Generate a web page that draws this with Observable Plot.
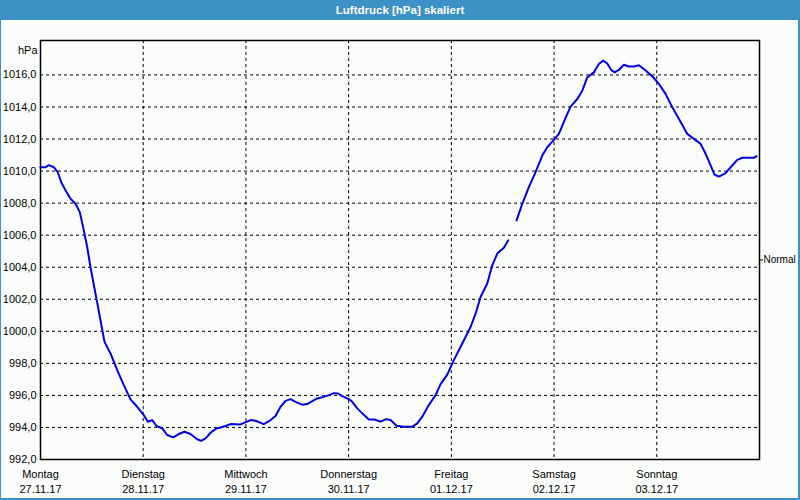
<!DOCTYPE html>
<html>
<head>
<meta charset="utf-8">
<script src="https://cdn.jsdelivr.net/npm/d3@7"></script>
<script src="https://cdn.jsdelivr.net/npm/@observablehq/plot@0.6"></script>
<style>
  html, body { margin: 0; padding: 0; background: #fbfdfb; }
  #wrap { position: relative; width: 800px; height: 500px; box-sizing: border-box;
          border-left: 1px solid #3c92c6; border-right: 2px solid #3c92c6; border-bottom: 2px solid #3c92c6;
          background: #fbfdfb; overflow: hidden; }
  #title { position: absolute; left: -1px; top: 0; width: 800px; height: 20px; background: #3c92c6;
           color: #fff; font: bold 11.5px "Liberation Sans", Arial, sans-serif; text-align: center; line-height: 20px; }
  #chart { position: absolute; left: 0; top: 20px; }
  #chart svg { overflow: visible; }
</style>
</head>
<body>
<div id="wrap"><div id="title">Luftdruck [hPa] skaliert</div><div id="chart"></div></div>
<script>
// hours since Montag 27.11.17 00:00
const hours1 = [0,1.17,1.94,3.11,4.04,4.84,5.84,7.01,8.18,9.18,10.12,10.91,11.68,12.85,14.02,14.96,16.36,17.92,19.47,21.03,22.6,24.14,25.07,26.1,27.11,28.44,29.61,31.01,32.32,33.65,35.05,36.62,37.55,38.56,39.73,41.13,42.06,43.23,44.4,46.74,49.08,50.24,52.18,53.75,54.92,56.09,57.25,58.42,59.59,61.16,62.33,63.49,64.66,66.2,67.37,68.54,69.48,70.5,72.05,72.84,74.01,75.18,76.72,78.05,79.45,80.79,81.79,83.19,84.9,86.86,88.03,89.2,90.74,92.31,93.48,95.04,96.58,98.55,100.49,101.66,102.82,104.39,105.56,106.73,108.27,109.3];
const pressure1 = [1010.24,1010.24,1010.37,1010.24,1009.93,1009.3,1008.8,1008.27,1007.96,1007.44,1006.3,1005.26,1004.0,1002.35,1000.69,999.34,998.62,997.58,996.64,995.75,995.29,994.77,994.36,994.46,994.09,993.94,993.53,993.38,993.59,993.73,993.59,993.26,993.17,993.32,993.67,993.94,994.0,994.09,994.21,994.19,994.46,994.42,994.21,994.46,994.71,995.29,995.66,995.77,995.6,995.42,995.46,995.64,995.81,995.91,996.02,996.14,996.12,995.96,995.77,995.6,995.19,994.88,994.5,994.5,994.36,994.52,994.46,994.11,994.04,994.04,994.25,994.67,995.4,996.02,996.7,997.3,998.2,999.24,1000.27,1001.1,1002.14,1002.98,1004.12,1004.85,1005.22,1005.68];
const hours2 = [111.24,112.57,114.11,115.68,117.24,118.41,119.95,121.12,122.69,123.86,125.42,126.59,127.76,129.3,130.47,131.4,132.43,133.37,134.14,135.14,136.31,137.48,138.65,139.82,140.98,142.15,143.32,144.49,146.05,147.62,149.16,151.13,152.67,154.24,155.41,156.58,157.51,158.51,160.08,161.25,162.81,163.98,165.52,166.69,167.33];
const pressure2 = [1006.92,1007.96,1009.0,1009.93,1010.97,1011.49,1011.95,1012.32,1013.32,1014.02,1014.5,1015.02,1015.85,1016.16,1016.68,1016.89,1016.72,1016.31,1016.16,1016.31,1016.64,1016.53,1016.53,1016.6,1016.37,1016.1,1015.81,1015.44,1014.82,1013.98,1013.26,1012.32,1012.01,1011.7,1011.08,1010.35,1009.77,1009.66,1009.87,1010.24,1010.7,1010.83,1010.83,1010.83,1010.93];

const dayNames = ["Montag","Dienstag","Mittwoch","Donnerstag","Freitag","Samstag","Sonntag"];
const dayDates = ["27.11.17","28.11.17","29.11.17","30.11.17","01.12.17","02.12.17","03.12.17"];
const yTicks = [992,994,996,998,1000,1002,1004,1006,1008,1010,1012,1014,1016];
const normalLevel = 1004.45;
const yDomain = [992, 1018.15];

const start = Date.UTC(2017, 10, 27);
const toDate = h => new Date(start + h * 3600e3);
const data = [
  ...hours1.map((h, i) => ({t: toDate(h), p: pressure1[i]})),
  {t: toDate(110.2), p: NaN},
  ...hours2.map((h, i) => ({t: toDate(h), p: pressure2[i]}))
];
const dayTicks = dayNames.map((_, i) => new Date(start + i * 864e5));
const nameOf = d => dayNames[Math.round((d - start) / 864e5)];
const dateOf = d => dayDates[Math.round((d - start) / 864e5)];

const chart = Plot.plot({
  width: 797, height: 478,
  marginLeft: 39, marginRight: 39, marginTop: 20, marginBottom: 39,
  style: {fontFamily: "'Liberation Sans', Arial, sans-serif", fontSize: "11px", background: "#fbfdfb", color: "#000", overflow: "visible"},
  x: {type: "utc", domain: [new Date(start), new Date(start + 7 * 864e5)]},
  y: {domain: yDomain},
  marks: [
    Plot.gridY(yTicks.slice(1), {stroke: "#000", strokeOpacity: 1, strokeDasharray: "3,3"}),
    Plot.gridX(dayTicks.slice(1), {stroke: "#000", strokeOpacity: 1, strokeDasharray: "3,3"}),
    Plot.frame({stroke: "#000", strokeWidth: 1.5}),
    Plot.axisY(yTicks, {tickSize: 0, tickPadding: 4, tickFormat: d => d.toFixed(1).replace(".", ","), label: null, fill: "#000"}),
    Plot.axisY([normalLevel], {anchor: "right", tickSize: 3, tickPadding: 1, tickFormat: () => "Normal", label: null, fill: "#000", fontSize: 10}),
    Plot.axisX(dayTicks, {tickSize: 0, tickPadding: 11, tickFormat: nameOf, label: null, fill: "#000"}),
    Plot.axisX(dayTicks, {tickSize: 0, tickPadding: 26, tickFormat: dateOf, label: null, fill: "#000"}),
    Plot.text(["hPa"], {frameAnchor: "top-left", textAnchor: "end", dx: -3, dy: 6, fill: "#000"}),
    Plot.line(data, {x: "t", y: "p", stroke: "#0000e6", strokeWidth: 2})
  ]
});
document.getElementById("chart").append(chart);
</script>
</body>
</html>
